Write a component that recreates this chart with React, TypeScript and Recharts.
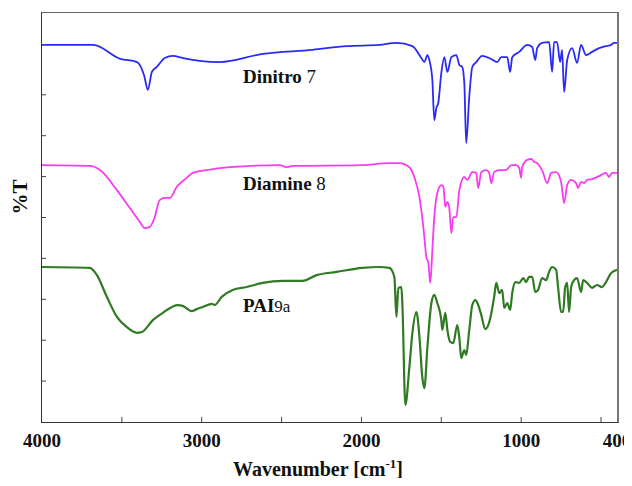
import React from 'react';
import { LineChart, Line, XAxis, YAxis } from 'recharts';

// wavenumbers (cm-1) and relative transmittance
const DINITRO_W = [4000, 3680, 3510, 3405, 3361, 3337, 3312, 3281, 3231, 3181, 3119, 3013, 2887, 2619, 2306, 2094, 1887, 1781, 1681, 1625, 1606, 1587, 1575, 1556, 1544, 1531, 1519, 1500, 1481, 1462, 1437, 1406, 1387, 1369, 1356, 1344, 1325, 1306, 1281, 1244, 1200, 1150, 1125, 1087, 1069, 1056, 1012, 962, 931, 912, 900, 869, 825, 806, 794, 775, 756, 744, 731, 712, 681, 650, 625, 594, 556, 512, 469, 437, 419, 400];
const DINITRO_T = [92.2, 92.2, 88.8, 88.0, 84.8, 81.2, 85.6, 86.8, 89.0, 89.5, 89.0, 88.3, 88.0, 90.0, 91.0, 91.9, 92.2, 92.7, 91.9, 89.0, 88.0, 89.7, 88.5, 83.6, 73.8, 76.8, 78.0, 85.3, 89.2, 85.6, 89.2, 89.7, 87.3, 86.8, 82.9, 68.2, 79.5, 86.8, 88.0, 89.5, 89.0, 88.0, 89.2, 89.2, 85.6, 89.2, 90.5, 92.2, 91.7, 88.5, 91.4, 92.7, 92.9, 85.6, 92.9, 92.9, 88.0, 91.0, 80.7, 88.5, 91.4, 87.8, 92.2, 89.7, 90.5, 91.4, 91.9, 92.2, 92.7, 92.7];

const DIAMINE_W = [4000, 3700, 3637, 3531, 3450, 3387, 3356, 3325, 3300, 3262, 3231, 3200, 3156, 3094, 3056, 2969, 2825, 2512, 2469, 2431, 1994, 1825, 1762, 1700, 1669, 1637, 1606, 1594, 1581, 1569, 1556, 1544, 1525, 1500, 1487, 1475, 1462, 1450, 1437, 1425, 1406, 1387, 1356, 1337, 1306, 1281, 1269, 1250, 1219, 1200, 1187, 1169, 1137, 1094, 1062, 1031, 1012, 1000, 994, 962, 937, 919, 900, 869, 837, 812, 781, 750, 731, 712, 687, 656, 644, 625, 606, 587, 556, 512, 469, 450, 431, 400];
const DIAMINE_T = [62.8, 62.6, 61.6, 56.7, 52.3, 48.9, 47.4, 47.7, 49.4, 54.3, 54.8, 54.8, 57.5, 59.7, 60.9, 61.6, 62.3, 62.8, 62.3, 62.6, 62.8, 63.3, 63.3, 62.3, 59.9, 55.0, 45.2, 40.3, 38.9, 34.0, 42.1, 50.1, 56.0, 57.9, 57.5, 52.6, 53.8, 52.3, 46.2, 50.1, 50.1, 56.7, 59.9, 59.2, 61.1, 60.9, 57.2, 61.1, 61.6, 60.9, 58.4, 61.1, 61.6, 61.6, 62.8, 62.8, 62.1, 59.7, 62.3, 64.1, 64.3, 63.6, 63.3, 61.6, 58.4, 60.9, 61.1, 58.7, 53.5, 57.9, 59.2, 58.4, 57.2, 58.7, 58.4, 59.2, 59.4, 60.1, 60.9, 59.9, 60.9, 60.9];

const PAI_W = [4000, 3700, 3656, 3594, 3531, 3469, 3406, 3375, 3306, 3244, 3150, 3119, 3062, 3031, 2994, 2937, 2919, 2875, 2806, 2719, 2619, 2494, 2369, 2281, 2156, 1994, 1887, 1825, 1794, 1781, 1769, 1750, 1744, 1725, 1700, 1681, 1656, 1637, 1619, 1606, 1587, 1562, 1544, 1525, 1500, 1494, 1475, 1462, 1444, 1425, 1400, 1387, 1375, 1356, 1344, 1325, 1306, 1287, 1269, 1250, 1225, 1200, 1169, 1156, 1137, 1119, 1106, 1087, 1069, 1056, 1037, 1012, 987, 969, 950, 931, 912, 894, 869, 844, 825, 806, 781, 769, 750, 737, 725, 712, 700, 687, 669, 650, 625, 612, 587, 556, 525, 494, 469, 437, 400];
const PAI_T = [37.9, 37.7, 35.9, 30.6, 25.7, 23.2, 21.8, 22.0, 24.9, 26.7, 28.6, 28.4, 27.1, 27.6, 28.1, 28.9, 28.6, 30.6, 32.3, 33.0, 34.0, 34.5, 34.5, 35.9, 36.7, 37.7, 37.9, 37.7, 35.5, 25.7, 32.8, 33.0, 29.1, 4.2, 13.4, 21.8, 26.9, 20.8, 11.0, 8.3, 18.3, 29.1, 31.1, 29.1, 24.9, 22.5, 26.7, 22.5, 19.6, 19.3, 23.7, 20.5, 15.6, 17.6, 16.4, 22.5, 28.6, 29.8, 28.6, 26.2, 22.7, 24.4, 30.6, 34.0, 31.5, 32.3, 27.9, 29.1, 27.4, 31.5, 34.2, 34.0, 35.2, 34.2, 35.5, 35.5, 31.8, 32.3, 35.2, 34.7, 36.7, 37.9, 37.2, 33.0, 26.9, 26.9, 32.8, 34.0, 26.9, 33.0, 34.7, 35.2, 31.8, 34.7, 34.0, 32.8, 33.5, 33.0, 34.2, 36.4, 37.2];

const X_TICKS = [4000, 3500, 3000, 2500, 2000, 1500, 1000, 500, 400];
const X_LABELS = [4000, 3000, 2000, 1000, 400];
const Y_TICKS = [10, 20, 30, 40, 50, 60, 70, 80];

const toRows = (w: number[], t: number[]) => w.map((v, i) => ({ w: v, t: t[i] }));

const FONT = '"Liberation Serif", "Times New Roman", serif';

const XTick = (props: any) => {
  const { x, y, payload } = props;
  const v = payload.value;
  const edge = v === 4000 || v === 400;
  return (
    <g>
      {!edge && <line x1={x} x2={x} y1={y} y2={y - 5} stroke="#444" strokeWidth={1} />}
      {X_LABELS.includes(v) && (
        <text x={x} y={y + 25} textAnchor="middle" fontFamily={FONT} fontWeight="bold" fontSize={19} fill="#111">
          {v}
        </text>
      )}
    </g>
  );
};

const YTick = (props: any) => {
  const { x, y } = props;
  return <line x1={x} x2={x + 4} y1={y} y2={y} stroke="#444" strokeWidth={1} />;
};

const label: React.CSSProperties = {
  position: 'absolute',
  fontFamily: FONT,
  fontWeight: 'bold',
  color: '#111',
  whiteSpace: 'nowrap',
  lineHeight: 1,
};

export default function App() {
  return (
    <div style={{ position: 'relative', width: 616, height: 470 }}>
      <style>{'.recharts-surface{overflow:visible}'}</style>
      <LineChart width={616} height={470} margin={{ top: 5, right: 7, left: 33, bottom: 0 }}>
        <XAxis
          dataKey="w"
          type="number"
          domain={[400, 4000]}
          reversed
          ticks={X_TICKS}
          interval={0}
          tickSize={0}
          tickMargin={0}
          tickLine={false}
          tick={<XTick />}
          height={56}
          allowDataOverflow
          axisLine={false}
        />
        <YAxis
          type="number"
          domain={[0, 100]}
          ticks={Y_TICKS}
          interval={0}
          width={1}
          tickSize={0}
          tickMargin={0}
          tickLine={false}
          tick={<YTick />}
          axisLine={false}
        />
        <Line data={toRows(DINITRO_W, DINITRO_T)} dataKey="t" type="monotone" stroke="#2a2af5" strokeWidth={1.8} dot={false} isAnimationActive={false} />
        <Line data={toRows(DIAMINE_W, DIAMINE_T)} dataKey="t" type="monotone" stroke="#f53cf0" strokeWidth={1.8} dot={false} isAnimationActive={false} />
        <Line data={toRows(PAI_W, PAI_T)} dataKey="t" type="monotone" stroke="#2f7a22" strokeWidth={2.2} dot={false} isAnimationActive={false} />
      </LineChart>

      {/* plot frame */}
      <div
        style={{
          position: 'absolute',
          left: 33,
          top: 4,
          width: 575,
          height: 409,
          borderLeft: '1.5px solid #333',
          borderBottom: '1.5px solid #333',
          borderTop: '1.5px solid #666',
          borderRight: '2px solid #777',
          pointerEvents: 'none',
        }}
      />

      <div style={{ ...label, left: 12, top: 189, fontSize: 21, transform: 'translate(-50%, -50%) rotate(-90deg)' }}>%T</div>
      <div style={{ ...label, left: 310, top: 460, fontSize: 20, transform: 'translate(-50%, -50%)' }}>
        Wavenumber [cm<sup style={{ fontSize: 13 }}>-1</sup>]
      </div>
      <div style={{ ...label, left: 235, top: 68, fontSize: 19, transform: 'translateY(-50%)' }}>
        Dinitro <span style={{ fontWeight: 'normal' }}>7</span>
      </div>
      <div style={{ ...label, left: 235, top: 175, fontSize: 19, transform: 'translateY(-50%)' }}>
        Diamine <span style={{ fontWeight: 'normal' }}>8</span>
      </div>
      <div style={{ ...label, left: 235, top: 297, fontSize: 19, transform: 'translateY(-50%)' }}>
        PAI<span style={{ fontWeight: 'normal', fontSize: 17 }}>9a</span>
      </div>
    </div>
  );
}
